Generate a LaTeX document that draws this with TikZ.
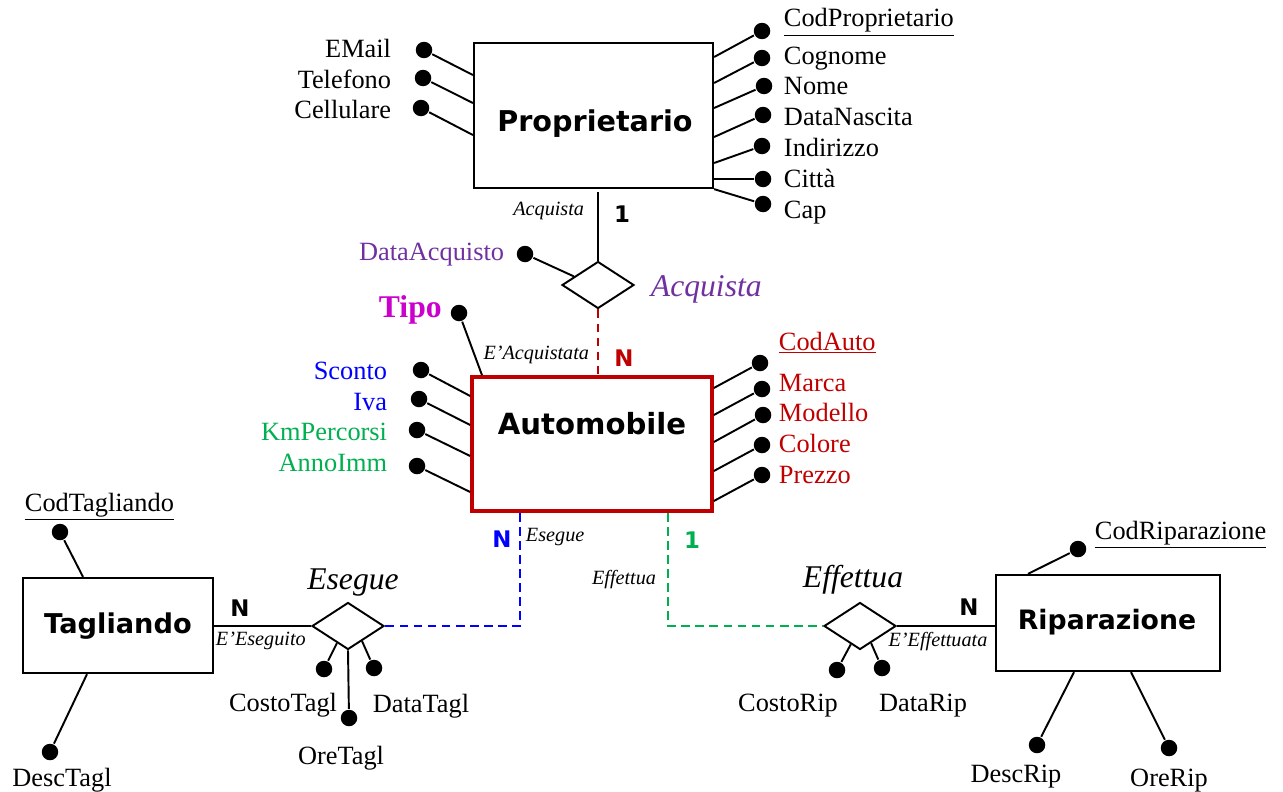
\documentclass[tikz,border=0pt]{standalone}
\usepackage{fontspec}
\setmainfont{Liberation Serif}
\newfontfamily\entfont{DejaVu Sans}
\usetikzlibrary{shapes.geometric,calc}
\definecolor{cpurple}{RGB}{112,48,160}
\definecolor{cmag}{RGB}{204,0,204}
\definecolor{cblue}{RGB}{0,0,255}
\definecolor{cgreen}{RGB}{0,176,80}
\definecolor{cred}{RGB}{192,0,0}
\begin{document}
\begin{tikzpicture}[x=0.02cm,y=-0.02cm,
  line width=1.1pt,
  dot/.style={circle,fill=black,draw=none,minimum size=0.33cm,inner sep=0pt},
  entbox/.style={draw,line width=1.3pt,inner sep=0pt},
  entname/.style={font=\entfont\bfseries\fontsize{#1}{18}\selectfont,inner sep=0pt},
  entname/.default=15.5,
  attr/.style={font=\fontsize{15}{18}\selectfont,inner sep=0pt},
  relbox/.style={diamond,draw,inner sep=0pt,minimum width=1.44cm,minimum height=0.94cm,line width=1.1pt},
  relname/.style={font=\itshape\fontsize{18}{21}\selectfont,inner sep=0pt},
  rolename/.style={font=\itshape\fontsize{11.5}{14}\selectfont,inner sep=0pt},
  card/.style={font=\entfont\bfseries\fontsize{13}{15}\selectfont,inner sep=0pt},
  dashln/.style={dash pattern=on 5pt off 3pt,line width=1.5pt}
]
\useasboundingbox (0,0) rectangle (1283,791);

% ---------- entities ----------
\node[entbox,minimum width=4.78cm,minimum height=2.9cm] (prop) at (593.5,115.5) {};
\node[entname=16.3,anchor=base] (propT) at (595,131) {Proprietario};
\node[entbox,draw=cred,line width=2.1pt,minimum width=4.8cm,minimum height=2.68cm] (auto) at (592,444) {};
\node[entname=16.6,anchor=base] (autoT) at (592,434) {Automobile};
\node[entbox,minimum width=3.8cm,minimum height=1.9cm] (tag) at (118,625.5) {};
\node[entname=15.5,anchor=base] (tagT) at (118,633) {Tagliando};
\node[entbox,minimum width=4.48cm,minimum height=1.92cm] (rip) at (1108,623) {};
\node[entname=15.2,anchor=base] (ripT) at (1107,629) {Riparazione};

% ---------- relationships ----------
\node[relbox] (acq) at (598,285) {};
\node[relbox] (eseg) at (348,626) {};
\node[relbox] (eff) at (860,626) {};
\node[relname,text=cpurple,anchor=base west] (acqT) at (650,296) {Acquista};
\node[relname,anchor=base] (esegT) at (353,589) {Esegue};
\node[relname,anchor=base] (effT) at (853,587) {Effettua};

% ---------- Proprietario attributes ----------
\node[dot] (pEm) at (424,50) {};
\node[dot] (pTe) at (423,78) {};
\node[dot] (pCe) at (421,108) {};
\draw (pEm) -- (prop.west |- 0,75);
\draw (pTe) -- (prop.west |- 0,103);
\draw (pCe) -- (prop.west |- 0,135);
\node[attr,anchor=base east] (pEmT) at (392,57) {EMail};
\node[attr,anchor=base east] (pTeT) at (392,88) {Telefono};
\node[attr,anchor=base east] (pCeT) at (392,118) {Cellulare};

\node[dot] (pCod) at (762,31) {};
\node[dot] (pCog) at (762,58) {};
\node[dot] (pNom) at (764,86) {};
\node[dot] (pDat) at (763,115) {};
\node[dot] (pInd) at (762,146) {};
\node[dot] (pCit) at (763,179) {};
\node[dot] (pCap) at (763,204) {};
\draw (prop.east |- 0,57) -- (pCod);
\draw (prop.east |- 0,83) -- (pCog);
\draw (prop.east |- 0,108) -- (pNom);
\draw (prop.east |- 0,137) -- (pDat);
\draw (prop.east |- 0,163) -- (pInd);
\draw (prop.east |- 0,179) -- (pCit);
\draw (prop.south east) -- (pCap);
\node[attr,anchor=base west] (pCodT) at (783,27) {\underline{CodProprietario}};
\node[attr,anchor=base west] (pCogT) at (783,64) {Cognome};
\node[attr,anchor=base west] (pNomT) at (783,94) {Nome};
\node[attr,anchor=base west] (pDatT) at (783,125) {DataNascita};
\node[attr,anchor=base west] (pIndT) at (783,156) {Indirizzo};
\node[attr,anchor=base west] (pCitT) at (783,187) {Città};
\node[attr,anchor=base west] (pCapT) at (783,218) {Cap};

% ---------- Acquista ----------
\draw (acq.north |- 0,192) -- (acq.north);
\node[rolename,anchor=base east] (acqR1) at (585,215) {Acquista};
\node[card,anchor=base] (acqC1) at (622,222) {1};
\draw[dashln,draw=cred] (acq.south) -- (acq.south |- auto.north);
\node[card,anchor=base,text=cred] (acqC2) at (624,366) {N};
\node[rolename,anchor=base east] (acqR2) at (590,359) {E'Acquistata};
\node[dot] (aDA) at (525,254) {};
\draw (aDA) -- ($(acq.west)!0.35!(acq.north)$);
\node[attr,anchor=base east,text=cpurple] (aDAT) at (505,260) {DataAcquisto};

% ---------- Automobile attributes ----------
\node[font=\bfseries\fontsize{18}{21}\selectfont,inner sep=0pt,text=cmag,anchor=base west] (tipoT) at (378,317) {Tipo};
\node[dot] (aTipo) at (459,313) {};
\draw (aTipo) -- (auto.north -| 482,0);

\node[dot] (aSc) at (421,370) {};
\node[dot] (aIv) at (419,399) {};
\node[dot] (aKm) at (417,430) {};
\node[dot] (aAn) at (417,466) {};
\draw (aSc) -- (auto.west |- 0,396);
\draw (aIv) -- (auto.west |- 0,425);
\draw (aKm) -- (auto.west |- 0,456);
\draw (aAn) -- (auto.west |- 0,492);
\node[attr,anchor=base east,text=cblue] (aScT) at (388,379) {Sconto};
\node[attr,anchor=base east,text=cblue] (aIvT) at (388,410) {Iva};
\node[attr,anchor=base east,text=cgreen] (aKmT) at (388,440) {KmPercorsi};
\node[attr,anchor=base east,text=cgreen] (aAnT) at (388,471) {AnnoImm};

\node[dot] (aCod) at (760,363) {};
\node[dot] (aMa) at (762,389) {};
\node[dot] (aMo) at (763,415) {};
\node[dot] (aCo) at (762,445) {};
\node[dot] (aPr) at (762,475) {};
\draw (auto.east |- 0,388) -- (aCod);
\draw (auto.east |- 0,415) -- (aMa);
\draw (auto.east |- 0,442) -- (aMo);
\draw (auto.east |- 0,471) -- (aCo);
\draw (auto.east |- 0,501) -- (aPr);
\node[attr,anchor=base west,text=cred] (aCodT) at (778,350) {\underline{CodAuto}};
\node[attr,anchor=base west,text=cred] (aMaT) at (778,391) {Marca};
\node[attr,anchor=base west,text=cred] (aMoT) at (778,421) {Modello};
\node[attr,anchor=base west,text=cred] (aCoT) at (778,452) {Colore};
\node[attr,anchor=base west,text=cred] (aPrT) at (778,483) {Prezzo};

% ---------- Esegue ----------
\draw[dashln,draw=cblue] (auto.south -| 520,0) |- (eseg.east);
\node[card,anchor=base,text=cblue] (esC1) at (502,547) {N};
\node[rolename,anchor=base west] (esR1) at (525,541) {Esegue};
\draw (eseg.west -| tag.east) -- (eseg.west);
\node[card,anchor=base] (esC2) at (240,616) {N};
\node[rolename,anchor=base west] (esR2) at (215,645) {E'Eseguito};
\node[dot] (eCo) at (324,669) {};
\node[dot] (eDa) at (374,668) {};
\node[dot] (eOr) at (349,718) {};
\draw ($(eseg.south)!0.3!(eseg.west)$) -- (eCo);
\draw ($(eseg.south)!0.38!(eseg.east)$) -- (eDa);
\draw (eseg.south) -- (eOr);
\node[attr,anchor=base] (eCoT) at (283,711) {CostoTagl};
\node[attr,anchor=base] (eDaT) at (421,712) {DataTagl};
\node[attr,anchor=base] (eOrT) at (341,764) {OreTagl};

% ---------- Tagliando attributes ----------
\node[dot] (tCod) at (60,532) {};
\draw (tCod) -- (tag.north -| 83,0);
\node[attr,anchor=base west] (tCodT) at (24,511) {\underline{CodTagliando}};
\node[dot] (tDes) at (50,752) {};
\draw (tag.south -| 87,0) -- (tDes);
\node[attr,anchor=base] (tDesT) at (62,786) {DescTagl};

% ---------- Effettua ----------
\draw[dashln,draw=cgreen] (auto.south -| 668,0) |- (eff.west);
\node[card,anchor=base,text=cgreen] (efC1) at (692,548) {1};
\node[rolename,anchor=base east] (efR1) at (657,584) {Effettua};
\draw (eff.east) -- (eff.east -| rip.west);
\node[card,anchor=base] (efC2) at (969,615) {N};
\node[rolename,anchor=base] (efR2) at (938,646) {E'Effettuata};
\node[dot] (fCo) at (837,670) {};
\node[dot] (fDa) at (882,668) {};
\draw ($(eff.south)!0.25!(eff.west)$) -- (fCo);
\draw ($(eff.south)!0.3!(eff.east)$) -- (fDa);
\node[attr,anchor=base] (fCoT) at (788,711) {CostoRip};
\node[attr,anchor=base] (fDaT) at (923,711) {DataRip};

% ---------- Riparazione attributes ----------
\node[dot] (rCod) at (1078,549) {};
\draw (rCod) -- (rip.north -| 1028,0);
\node[attr,anchor=base west] (rCodT) at (1094,539) {\underline{CodRiparazione}};
\node[dot] (rDes) at (1037,745) {};
\node[dot] (rOre) at (1169,748) {};
\draw (rip.south -| 1074,0) -- (rDes);
\draw (rip.south -| 1131,0) -- (rOre);
\node[attr,anchor=base] (rDesT) at (1016,782) {DescRip};
\node[attr,anchor=base] (rOreT) at (1169,786) {OreRip};
\end{tikzpicture}
\end{document}
